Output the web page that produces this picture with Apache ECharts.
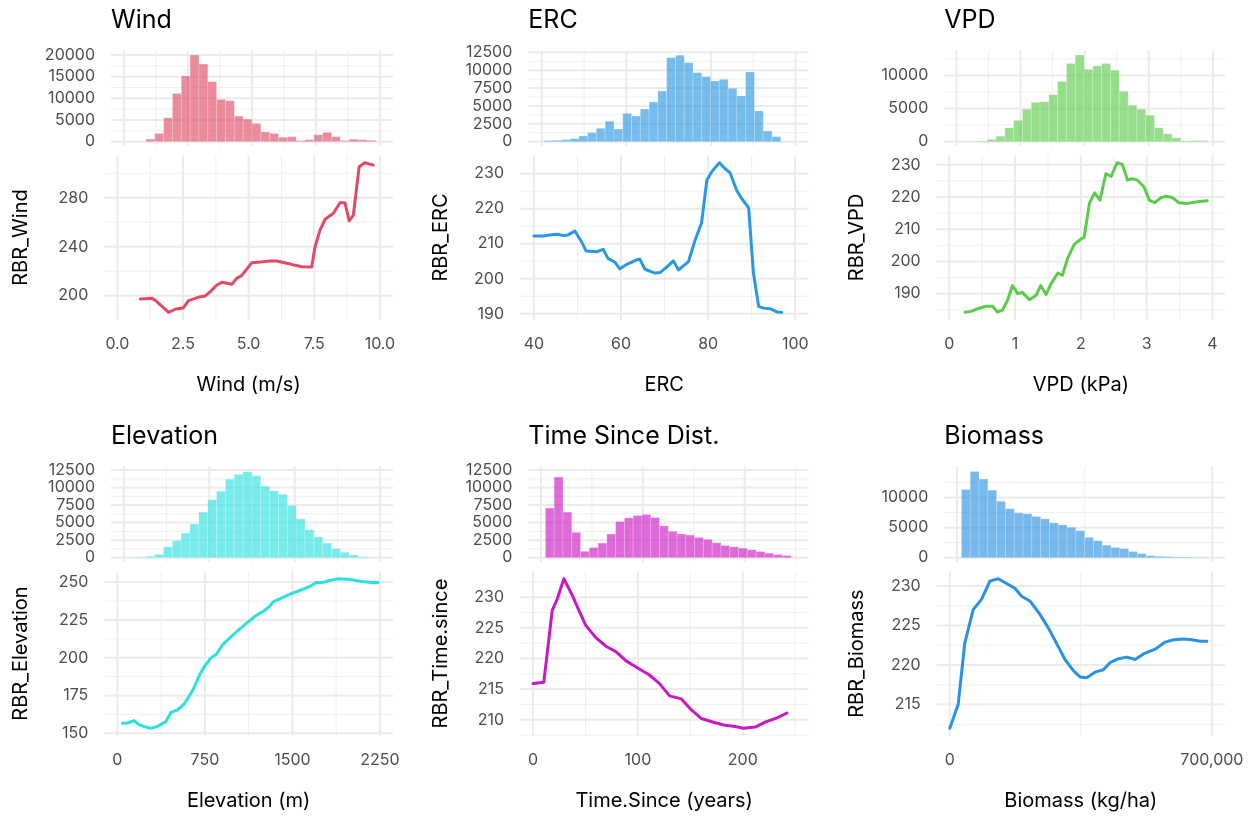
<!DOCTYPE html>
<html><head><meta charset="utf-8">
<script src="https://cdn.jsdelivr.net/npm/echarts@6/dist/echarts.min.js"></script>
<style>html,body{margin:0;padding:0;background:#fff}#c{width:1260px;height:816px}</style>
</head><body><div id="c"></div>
<script>
// ---------------- DATA ----------------
// Wind
const windBinStart = 0.862, windBinWidth = 0.3448;
const windCounts = [600,1900,5500,11100,15150,20000,17900,13850,9750,9450,5900,5200,4200,2250,1900,1000,1150,250,450,1600,2150,1150,250,550,450,300];
const windX = [0.87,1.32,1.51,1.95,2.20,2.52,2.71,3.16,3.35,3.54,3.79,3.98,4.36,4.55,4.74,5.12,5.44,5.82,6.07,6.58,6.77,7.03,7.40,7.53,7.72,7.91,8.23,8.48,8.67,8.83,8.99,9.21,9.43,9.75];
const windY = [197.3,197.9,195.0,186.4,188.9,190.2,196.0,199.2,199.8,203.3,208.7,210.9,209.3,214.2,216.6,227.0,227.5,228.3,228.3,225.9,224.8,223.7,223.4,240.0,253.6,262.4,267.3,275.9,275.9,261.2,265.9,305.3,308.6,306.7];
const windXTicks = [0,2.5,5,7.5,10], windXMinor = [1.25,3.75,6.25,8.75], windXTickLabels = ['0.0','2.5','5.0','7.5','10.0'];
const windHistYTicks = [0,5000,10000,15000,20000], windHistYMinor = [2500,7500,12500,17500];
const windYTicks = [200,240,280], windYMinor = [220,260,300];

// ERC
const ercBinStart = 40.46, ercBinWidth = 2.0752;
const ercCounts = [140,190,280,420,790,1260,1870,2850,1770,3960,3590,4570,5550,7090,11750,12080,11050,9650,9100,8490,8720,7460,6390,9750,4290,1490,700];
const ercX = [40,42.1,44.4,45.5,46.7,47.8,49.4,50.9,52.0,54.4,55.9,57.0,58.6,59.7,61.3,63.6,64.3,65.5,67.8,69.0,70.5,72.0,73.2,75.5,77.0,78.5,79.7,80.8,82.6,83.9,85.0,86.6,87.7,89.3,90.4,91.6,92.7,94.3,95.8,96.9];
const ercY = [212.2,212.2,212.6,212.7,212.3,212.5,213.6,210.6,207.9,207.7,208.4,205.8,204.7,202.8,204.1,205.4,205.6,202.7,201.6,201.8,203.3,205.1,202.5,204.9,211.0,216.0,228.1,230.5,233.1,231.4,230.3,225.1,222.9,220.2,201.6,192.1,191.6,191.4,190.5,190.4];
const ercXTicks = [40,60,80,100], ercXMinor = [50,70,90], ercXTickLabels = ['40','60','80','100'];
const ercHistYTicks = [0,2500,5000,7500,10000,12500], ercHistYMinor = [1250,3750,6250,8750,11250];
const ercYTicks = [190,200,210,220,230], ercYMinor = [195,205,215,225];

// VPD
const vpdBinStart = 0.206, vpdBinWidth = 0.1373;
const vpdCounts = [50,100,310,820,2090,3210,4900,5920,6020,7090,9080,11790,13060,10920,11430,11790,10770,7600,5510,4900,3980,2090,1170,560,100,150,150];
const vpdX = [0.24,0.33,0.43,0.56,0.66,0.73,0.81,0.89,0.96,1.04,1.11,1.22,1.32,1.39,1.47,1.54,1.65,1.72,1.80,1.90,2.00,2.05,2.13,2.21,2.29,2.38,2.46,2.55,2.63,2.71,2.78,2.86,2.96,3.04,3.12,3.22,3.29,3.39,3.49,3.62,3.77,3.92];
const vpdY = [184.2,184.5,185.3,186.1,186.1,184.3,184.9,188.1,192.5,190.0,190.4,188.1,189.5,192.5,189.7,192.8,196.4,195.7,201.0,205.3,206.9,207.5,218.0,221.3,219.0,227.2,226.4,230.6,230.1,225.2,225.7,225.2,223.1,219.0,218.2,219.8,220.2,219.8,218.2,218.0,218.5,218.8];
const vpdXTicks = [0,1,2,3,4], vpdXMinor = [0.5,1.5,2.5,3.5], vpdXTickLabels = ['0','1','2','3','4'];
const vpdHistYTicks = [0,5000,10000], vpdHistYMinor = [2500,7500,12500];
const vpdYTicks = [190,200,210,220,230], vpdYMinor = [185,195,205,215,225];

// Elevation
const elevBinStart = 38.8, elevBinWidth = 77.55;
const elevCounts = [30,100,190,480,1540,2400,3510,4800,6490,8270,9470,11200,11880,12260,11680,10190,9520,9040,7450,5530,3990,2980,2070,1300,770,380,140,50];
const elevX = [43,86,143,186,229,287,344,416,459,516,573,645,702,745,803,846,903,975,1046,1118,1189,1261,1304,1333,1404,1490,1576,1648,1705,1763,1820,1892,1992,2092,2178,2235];
const elevY = [156.6,156.8,158.4,155.7,154.4,153.3,154.6,157.7,163.9,165.5,169.4,178.3,188.2,194.2,199.9,202.1,208.7,214.0,218.7,223.5,227.9,231.2,233.9,236.8,239.4,242.3,244.9,247.1,249.8,249.8,251.1,252.2,251.8,250.4,249.8,249.8];
const elevXTicks = [0,750,1500,2250], elevXMinor = [375,1125,1875], elevXTickLabels = ['0','750','1500','2250'];
const elevHistYTicks = [0,2500,5000,7500,10000,12500], elevHistYMinor = [1250,3750,6250,8750,11250];
const elevYTicks = [150,175,200,225,250], elevYMinor = [162.5,187.5,212.5,237.5];

// Time since disturbance
const timeBinStart = 4.31, timeBinWidth = 8.62;
const timeCounts = [7070,11490,6490,3610,910,1440,2070,3370,5140,5670,6010,6150,5720,4520,3750,3370,3220,2880,2600,2120,1730,1540,1350,1110,870,630,430,290];
const timeX = [0,10.2,18.2,23,29.4,37.4,43.8,50.2,59.8,69.4,79,88.6,98.2,111,120.6,130.2,141.4,151,160.6,171.8,183,192.6,200.6,211.8,221.4,232.6,242.2];
const timeY = [215.9,216.1,227.8,229.7,233.0,230.3,227.8,225.4,223.4,222.0,221.1,219.6,218.6,217.3,215.9,213.9,213.4,211.6,210.2,209.6,209.1,208.9,208.6,208.8,209.6,210.3,211.1];
const timeXTicks = [0,100,200], timeXMinor = [50,150,250], timeXTickLabels = ['0','100','200'];
const timeHistYTicks = [0,2500,5000,7500,10000,12500], timeHistYMinor = [1250,3750,6250,8750,11250];
const timeYTicks = [210,215,220,225,230], timeYMinor = [207.5,212.5,217.5,222.5,227.5,232.5];

// Biomass
const bioBinStart = 12069, bioBinWidth = 24138;
const bioCounts = [11350,14330,13090,11240,9390,8150,7470,7310,6860,6460,5790,5450,5060,4500,3370,2810,2080,1690,1520,1010,670,340,220,170,110,110,60,60];
const bioX = [0,22300,40100,62400,84700,107000,129300,151600,173900,191700,214000,240800,263100,285400,307700,330000,347800,365600,387900,410200,428000,450300,472600,494900,517200,548400,575200,597500,624200,646500,668800,686600];
const bioY = [212.0,215.0,222.8,227.0,228.3,230.6,230.9,230.3,229.7,228.7,228.1,226.4,224.7,222.7,220.7,219.3,218.5,218.4,219.1,219.4,220.3,220.8,221.0,220.7,221.4,222.0,222.9,223.2,223.3,223.2,223.0,223.0];
const bioXTicks = [0,700000], bioXMinor = [350000], bioXTickLabels = ['0','700,000'];
const bioHistYTicks = [0,5000,10000], bioHistYMinor = [2500,7500,12500];
const bioYTicks = [215,220,225,230], bioYMinor = [212.5,217.5,222.5,227.5];

// ---------------- LAYOUT / STYLE ----------------
const FONT = 'Inter';
const TICK_COLOR = '#4D4D4D';
const TICK_SIZE = 16, NAME_SIZE = 20;
const COLS = [
  {histLeft:111, lineLeft:104.3, right:393, yNameGap:73},
  {histLeft:528.3, lineLeft:520, right:808.3, yNameGap:69.5},
  {histLeft:944.3, lineLeft:936.7, right:1225, yNameGap:69.5}
];
const ROWS = [
  {titleTop:8, histTop:50.5, lineTop:155.3},
  {titleTop:424, histTop:466.5, lineTop:571.3}
];
const HIST_H = 95.5, LINE_H = 164.5;

const panels = [
  {title:'Wind', xName:'Wind (m/s)', yName:'RBR_Wind', color:'#DF4B64', row:0, col:0, xLim:[-0.5,10.5], histMax:20036,
   binStart:windBinStart, binWidth:windBinWidth, counts:windCounts, lx:windX, ly:windY,
   xMaj:windXTicks, xMinor:windXMinor, xLab:windXTickLabels, hyMaj:windHistYTicks, hyMinor:windHistYMinor, lyMaj:windYTicks, lyMinor:windYMinor},
  {title:'ERC', xName:'ERC', yName:'RBR_ERC', color:'#2898E4', row:0, col:1, xLim:[36.8,103.0], histMax:12150,
   binStart:ercBinStart, binWidth:ercBinWidth, counts:ercCounts, lx:ercX, ly:ercY,
   xMaj:ercXTicks, xMinor:ercXMinor, xLab:ercXTickLabels, hyMaj:ercHistYTicks, hyMinor:ercHistYMinor, lyMaj:ercYTicks, lyMinor:ercYMinor},
  {title:'VPD', xName:'VPD (kPa)', yName:'RBR_VPD', color:'#5CCB4B', row:0, col:2, xLim:[-0.19,4.19], histMax:13100,
   binStart:vpdBinStart, binWidth:vpdBinWidth, counts:vpdCounts, lx:vpdX, ly:vpdY,
   xMaj:vpdXTicks, xMinor:vpdXMinor, xLab:vpdXTickLabels, hyMaj:vpdHistYTicks, hyMinor:vpdHistYMinor, lyMaj:vpdYTicks, lyMinor:vpdYMinor},
  {title:'Elevation', xName:'Elevation (m)', yName:'RBR_Elevation', color:'#2CE0E0', row:1, col:0, xLim:[-112,2362], histMax:12380,
   binStart:elevBinStart, binWidth:elevBinWidth, counts:elevCounts, lx:elevX, ly:elevY,
   xMaj:elevXTicks, xMinor:elevXMinor, xLab:elevXTickLabels, hyMaj:elevHistYTicks, hyMinor:elevHistYMinor, lyMaj:elevYTicks, lyMinor:elevYMinor},
  {title:'Time Since Dist.', xName:'Time.Since (years)', yName:'RBR_Time.since', color:'#CB17C3', row:1, col:1, xLim:[-12.5,262.5], histMax:12380,
   binStart:timeBinStart, binWidth:timeBinWidth, counts:timeCounts, lx:timeX, ly:timeY,
   xMaj:timeXTicks, xMinor:timeXMinor, xLab:timeXTickLabels, hyMaj:timeHistYTicks, hyMinor:timeHistYMinor, lyMaj:timeYTicks, lyMinor:timeYMinor},
  {title:'Biomass', xName:'Biomass (kg/ha)', yName:'RBR_Biomass', color:'#2A92E2', row:1, col:2, xLim:[-35000,735000], histMax:14460,
   binStart:bioBinStart, binWidth:bioBinWidth, counts:bioCounts, lx:bioX, ly:bioY,
   xMaj:bioXTicks, xMinor:bioXMinor, xLab:bioXTickLabels, hyMaj:bioHistYTicks, hyMinor:bioHistYMinor, lyMaj:bioYTicks, lyMinor:bioYMinor}
];

function hexToRgba(hex, a) {
  const n = parseInt(hex.slice(1), 16);
  return 'rgba(' + ((n >> 16) & 255) + ',' + ((n >> 8) & 255) + ',' + (n & 255) + ',' + a + ')';
}

function gridLineSeries(gi, xLim, yLim, xMaj, xMin, yMaj, yMin) {
  const items = [];
  const inX = v => v >= xLim[0] && v <= xLim[1];
  const inY = v => v >= yLim[0] && v <= yLim[1];
  yMin.filter(inY).forEach(v => items.push([0, v, 0]));
  xMin.filter(inX).forEach(v => items.push([1, v, 0]));
  yMaj.filter(inY).forEach(v => items.push([0, v, 1]));
  xMaj.filter(inX).forEach(v => items.push([1, v, 1]));
  return {
    type:'custom', xAxisIndex:gi, yAxisIndex:gi, z:0, silent:true, animation:false,
    data: items,
    renderItem: function (params, api) {
      const t = api.value(0), v = api.value(1), maj = api.value(2);
      const cs = params.coordSys;
      let shape;
      if (t === 0) {
        const y = api.coord([xLim[0], v])[1];
        shape = {x1: cs.x, y1: y, x2: cs.x + cs.width, y2: y};
      } else {
        const x = api.coord([v, yLim[0]])[0];
        shape = {x1: x, y1: cs.y, x2: x, y2: cs.y + cs.height};
      }
      return {type:'line', shape: shape, style:{stroke: maj ? '#EBEBEB' : '#EFEFEF', lineWidth: maj ? 2 : 1}};
    }
  };
}

const grids = [], xAxes = [], yAxes = [], series = [], titles = [];

panels.forEach(function (p) {
  const C = COLS[p.col], R = ROWS[p.row];
  titles.push({text: p.title, left: C.histLeft, top: R.titleTop, padding: 0,
    textStyle: {fontFamily: FONT, fontSize: 25, fontWeight: 'normal', color: '#000'}});

  // ---- histogram panel ----
  const hg = grids.length;
  grids.push({left: C.histLeft, top: R.histTop, width: C.right - C.histLeft, height: HIST_H, containLabel: false, outerBoundsMode: 'none'});
  const hyLim = [-0.05 * p.histMax, 1.05 * p.histMax];
  xAxes.push({gridIndex: hg, type: 'value', min: p.xLim[0], max: p.xLim[1],
    axisLine: {show: false}, axisTick: {show: false}, axisLabel: {show: false}, splitLine: {show: false}});
  yAxes.push({gridIndex: hg, type: 'value', min: hyLim[0], max: hyLim[1],
    axisLine: {show: false}, axisTick: {show: false}, splitLine: {show: false},
    axisLabel: {customValues: p.hyMaj, formatter: v => String(Math.round(v)), color: TICK_COLOR, fontSize: TICK_SIZE, fontFamily: FONT, margin: 16}});
  series.push(gridLineSeries(hg, p.xLim, hyLim, p.xMaj, p.xMinor, p.hyMaj, p.hyMinor));
  const bins = p.counts.map((c, i) => [p.binStart + i * p.binWidth, p.binStart + (i + 1) * p.binWidth, c]);
  const fill = hexToRgba(p.color, 0.64);
  series.push({
    type: 'custom', xAxisIndex: hg, yAxisIndex: hg, z: 2, silent: true, animation: false,
    data: bins, encode: {x: [0, 1], y: 2},
    renderItem: function (params, api) {
      const p0 = api.coord([api.value(0), 0]);
      const p1 = api.coord([api.value(1), api.value(2)]);
      return {type: 'rect', shape: {x: p0[0], y: p1[1], width: p1[0] - p0[0], height: p0[1] - p1[1]},
        style: {fill: fill, stroke: 'rgba(255,255,255,0.35)', lineWidth: 0.6}};
    }
  });

  // ---- line panel ----
  const lg = grids.length;
  grids.push({left: C.lineLeft, top: R.lineTop, width: C.right - C.lineLeft, height: LINE_H, containLabel: false, outerBoundsMode: 'none'});
  const ymin = Math.min.apply(null, p.ly), ymax = Math.max.apply(null, p.ly);
  const pad = (ymax - ymin) * 0.05;
  const lyLim = [ymin - pad, ymax + pad];
  xAxes.push({gridIndex: lg, type: 'value', min: p.xLim[0], max: p.xLim[1],
    axisLine: {show: false}, axisTick: {show: false}, splitLine: {show: false},
    axisLabel: {customValues: p.xMaj, formatter: v => { const k = p.xMaj.indexOf(v); return k >= 0 ? p.xLab[k] : String(v); },
      color: TICK_COLOR, fontSize: TICK_SIZE, fontFamily: FONT, margin: 16},
    name: p.xName, nameLocation: 'middle', nameGap: 55, nameMoveOverlap: false,
    nameTextStyle: {fontFamily: FONT, fontSize: NAME_SIZE, color: '#000'}});
  yAxes.push({gridIndex: lg, type: 'value', min: lyLim[0], max: lyLim[1],
    axisLine: {show: false}, axisTick: {show: false}, splitLine: {show: false},
    axisLabel: {customValues: p.lyMaj, formatter: v => String(v), color: TICK_COLOR, fontSize: TICK_SIZE, fontFamily: FONT, margin: 16},
    name: p.yName, nameLocation: 'middle', nameRotate: 90, nameGap: C.yNameGap, nameMoveOverlap: false,
    nameTextStyle: {fontFamily: FONT, fontSize: NAME_SIZE, color: '#000'}});
  series.push(gridLineSeries(lg, p.xLim, lyLim, p.xMaj, p.xMinor, p.lyMaj, p.lyMinor));
  series.push({
    type: 'line', xAxisIndex: lg, yAxisIndex: lg, z: 3, silent: true, animation: false,
    data: p.lx.map((x, j) => [x, p.ly[j]]),
    showSymbol: false, symbol: 'none', clip: false,
    lineStyle: {color: p.color, width: 3, join: 'round', cap: 'round'}, itemStyle: {color: p.color}
  });
});

const chart = echarts.init(document.getElementById('c'), null, {renderer: 'canvas'});
chart.setOption({
  animation: false,
  backgroundColor: '#ffffff',
  textStyle: {fontFamily: FONT},
  title: titles,
  grid: grids,
  xAxis: xAxes,
  yAxis: yAxes,
  tooltip: {show: false},
  series: series
});
</script>
</body></html>
